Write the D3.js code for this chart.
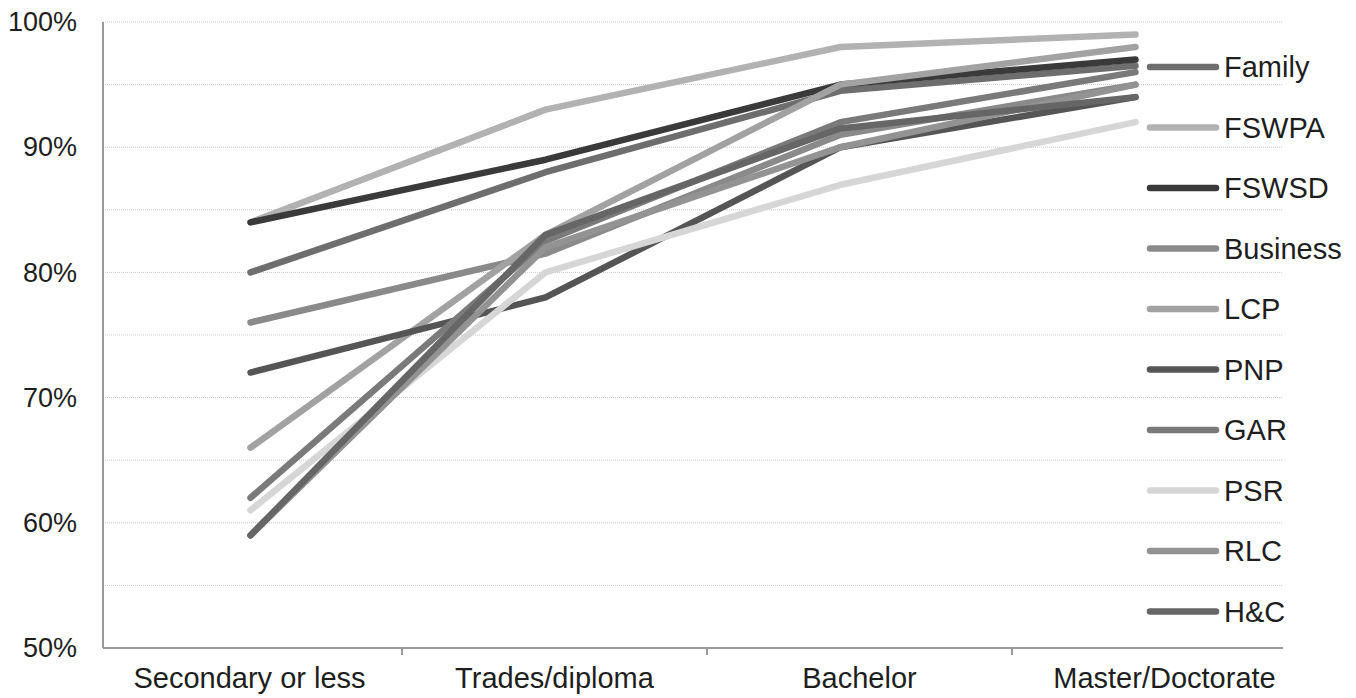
<!DOCTYPE html>
<html>
<head>
<meta charset="utf-8">
<script src="https://cdn.jsdelivr.net/npm/d3@7/dist/d3.min.js"></script>
<style>
  body { margin: 0; background: #ffffff; }
  text { font-family: "Liberation Sans", Arial, sans-serif; fill: #1e1e1e; }
</style>
</head>
<body>
<svg id="chart" width="1356" height="698"></svg>
<script>
// Education level categories along the x axis
const categories = ["Secondary or less", "Trades/diploma", "Bachelor", "Master/Doctorate"];

// Share (%) for each immigration class at each education level
const family   = [80, 88, 94.5, 96.5];
const fswpa    = [84, 93, 98, 99];
const fswsd    = [84, 89, 95, 97];
const business = [76, 81.5, 91, 95];
const lcp      = [66, 83, 95, 98];
const pnp      = [72, 78, 90, 94];
const gar      = [62, 82.5, 92, 96];
const psr      = [61, 80, 87, 92];
const rlc      = [59, 82, 90, 95];
const hc       = [59, 83, 91.5, 94];

const seriesNames = ["Family", "FSWPA", "FSWSD", "Business", "LCP", "PNP", "GAR", "PSR", "RLC", "H&C"];
const seriesValues = [family, fswpa, fswsd, business, lcp, pnp, gar, psr, rlc, hc];
const seriesColors = ["#6e6e6e", "#b2b2b2", "#3a3a3a", "#8a8a8a", "#a2a2a2", "#555555", "#7a7a7a", "#d6d6d6", "#939393", "#666666"];

const yTicks = [50, 60, 70, 80, 90, 100];
const yGrid = [50, 55, 60, 65, 70, 75, 80, 85, 90, 95, 100];

const svg = d3.select("#chart");
const plot = { left: 103, right: 1283, top: 22, bottom: 648 };

// Line positions: one band per category inside the plot area
const xBand = d3.scaleBand().domain(categories).range([plot.left, plot.right]);
const x = c => xBand(c) + xBand.bandwidth() / 2;
// Category label axis, spread a little wider under the plot
const xLabel = d3.scaleBand().domain(categories).range([97, 1317]);
const y = d3.scaleLinear().domain([50, 100]).range([plot.bottom, plot.top]);

// Horizontal gridlines every 5%
svg.append("g").selectAll("line").data(yGrid).join("line")
  .attr("x1", plot.left).attr("x2", plot.right)
  .attr("y1", d => y(d)).attr("y2", d => y(d))
  .attr("stroke", "#c8c8c8").attr("stroke-width", 1)
  .attr("stroke-dasharray", "1,1");

// Y axis labels
const yAxis = d3.axisLeft(y).tickValues(yTicks).tickFormat(d => d + "%").tickSize(0).tickPadding(26);
const gy = svg.append("g").attr("transform", `translate(${plot.left},0)`).call(yAxis);
gy.select(".domain").remove();
gy.selectAll("text").attr("font-size", 27).style("font-family", "'Liberation Sans', Arial, sans-serif").attr("fill", "#1e1e1e");

// Axis lines
svg.append("line").attr("x1", plot.left).attr("x2", plot.left)
  .attr("y1", plot.top).attr("y2", plot.bottom)
  .attr("stroke", "#9a9a9a").attr("stroke-width", 2);
svg.append("line").attr("x1", plot.left).attr("x2", plot.right)
  .attr("y1", plot.bottom).attr("y2", plot.bottom)
  .attr("stroke", "#9a9a9a").attr("stroke-width", 2);

// X axis tick marks between categories and labels at category centers
svg.append("g").selectAll("line").data(categories.slice(1)).join("line")
  .attr("x1", d => xLabel(d)).attr("x2", d => xLabel(d))
  .attr("y1", plot.bottom).attr("y2", plot.bottom + 7)
  .attr("stroke", "#9a9a9a").attr("stroke-width", 2);
svg.append("g").selectAll("text").data(categories).join("text")
  .attr("x", d => xLabel(d) + xLabel.bandwidth() / 2).attr("y", plot.bottom + 40)
  .attr("text-anchor", "middle").attr("font-size", 29)
  .text(d => d);

// Series lines
const line = d3.line()
  .x((d, i) => x(categories[i]))
  .y(d => y(d));

svg.append("g").selectAll("path").data(seriesValues).join("path")
  .attr("d", d => line(d))
  .attr("fill", "none")
  .attr("stroke", (d, i) => seriesColors[i])
  .attr("stroke-width", 6.5)
  .attr("stroke-linecap", "round")
  .attr("stroke-linejoin", "round");

// Legend
const legendTop = 67, legendStep = 60.5;
const lg = svg.append("g").selectAll("g").data(seriesNames).join("g")
  .attr("transform", (d, i) => `translate(0,${legendTop + i * legendStep})`);
lg.append("line").attr("x1", 1150).attr("x2", 1216).attr("y1", 0).attr("y2", 0)
  .attr("stroke", (d, i) => seriesColors[i]).attr("stroke-width", 6.5).attr("stroke-linecap", "round");
lg.append("text").attr("x", 1224).attr("y", 0).attr("dy", "0.35em")
  .attr("font-size", 29).text(d => d);
</script>
</body>
</html>
